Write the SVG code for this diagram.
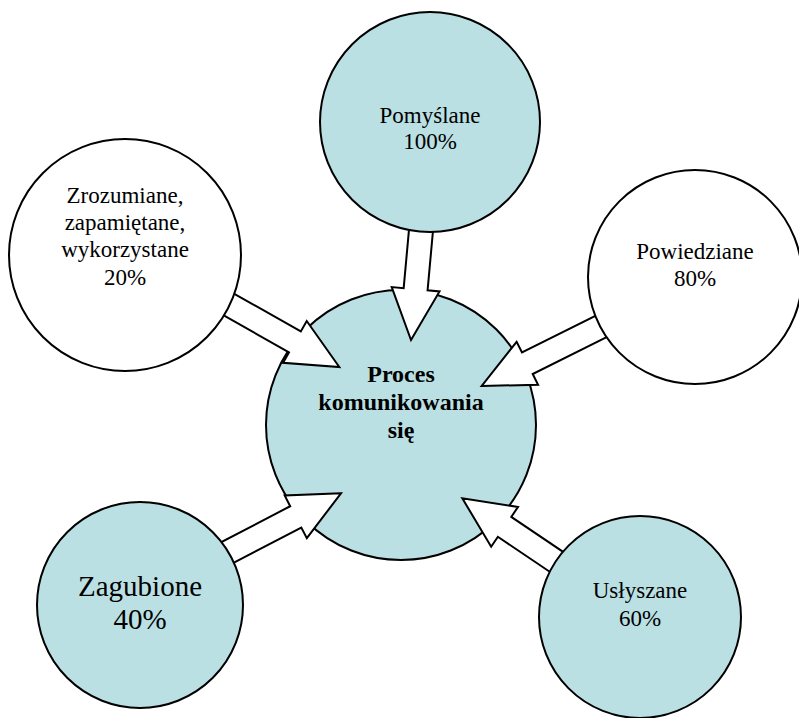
<svg xmlns="http://www.w3.org/2000/svg" width="799" height="718" viewBox="0 0 799 718">
  <style>
    .node { stroke: #000; stroke-width: 2; }
    .blue { fill: #bae0e4; }
    .white { fill: #fff; }
    .label { font-family: "Liberation Serif", "Times New Roman", serif; font-size: 23px; fill: #000; text-anchor: middle; }
    .big { font-size: 29px; }
    .bold { font-weight: bold; font-size: 24px; }
    .arrow { fill: #fff; stroke: #000; stroke-width: 2; stroke-linejoin: miter; }
  </style>
  <defs>
    <!-- block arrow, tip at origin, pointing along +x -->
    <polygon id="block-arrow" points="0,0 -51,-24 -51,-12 -160,-12 -160,12 -51,12 -51,24"/>
  </defs>

  <rect width="799" height="718" fill="#fff"/>

  <g id="center">
    <circle class="node blue" cx="401" cy="425" r="135"/>
    <text class="label bold" x="401" y="382">Proces</text>
    <text class="label bold" x="401" y="410">komunikowania</text>
    <text class="label bold" x="401" y="438">się</text>
  </g>

  <g id="connectors">
    <use href="#block-arrow" class="arrow" transform="translate(411,340) rotate(95.2)"/>
    <use href="#block-arrow" class="arrow" transform="translate(339.3,367) rotate(29.5)"/>
    <use href="#block-arrow" class="arrow" transform="translate(481.7,386) rotate(153.5)"/>
    <use href="#block-arrow" class="arrow" transform="translate(341,493.3) rotate(-27.5)"/>
    <use href="#block-arrow" class="arrow" transform="translate(462.3,498.3) rotate(-146)"/>
  </g>

  <g id="pomyslane">
    <circle class="node blue" cx="430" cy="122" r="110"/>
    <text class="label" x="430" y="123">Pomyślane</text>
    <text class="label" x="430" y="149">100%</text>
  </g>

  <g id="zrozumiane">
    <circle class="node white" cx="125" cy="255" r="116"/>
    <text class="label" x="125" y="203">Zrozumiane,</text>
    <text class="label" x="125" y="230">zapamiętane,</text>
    <text class="label" x="125" y="257">wykorzystane</text>
    <text class="label" x="125" y="285">20%</text>
  </g>

  <g id="powiedziane">
    <circle class="node white" cx="695" cy="277" r="107"/>
    <text class="label" x="695" y="259">Powiedziane</text>
    <text class="label" x="695" y="286">80%</text>
  </g>

  <g id="zagubione">
    <circle class="node blue" cx="140" cy="605" r="103"/>
    <text class="label big" x="140" y="596">Zagubione</text>
    <text class="label big" x="140" y="629">40%</text>
  </g>

  <g id="uslyszane">
    <circle class="node blue" cx="640" cy="617" r="101"/>
    <text class="label" x="640" y="598">Usłyszane</text>
    <text class="label" x="640" y="626">60%</text>
  </g>
</svg>
